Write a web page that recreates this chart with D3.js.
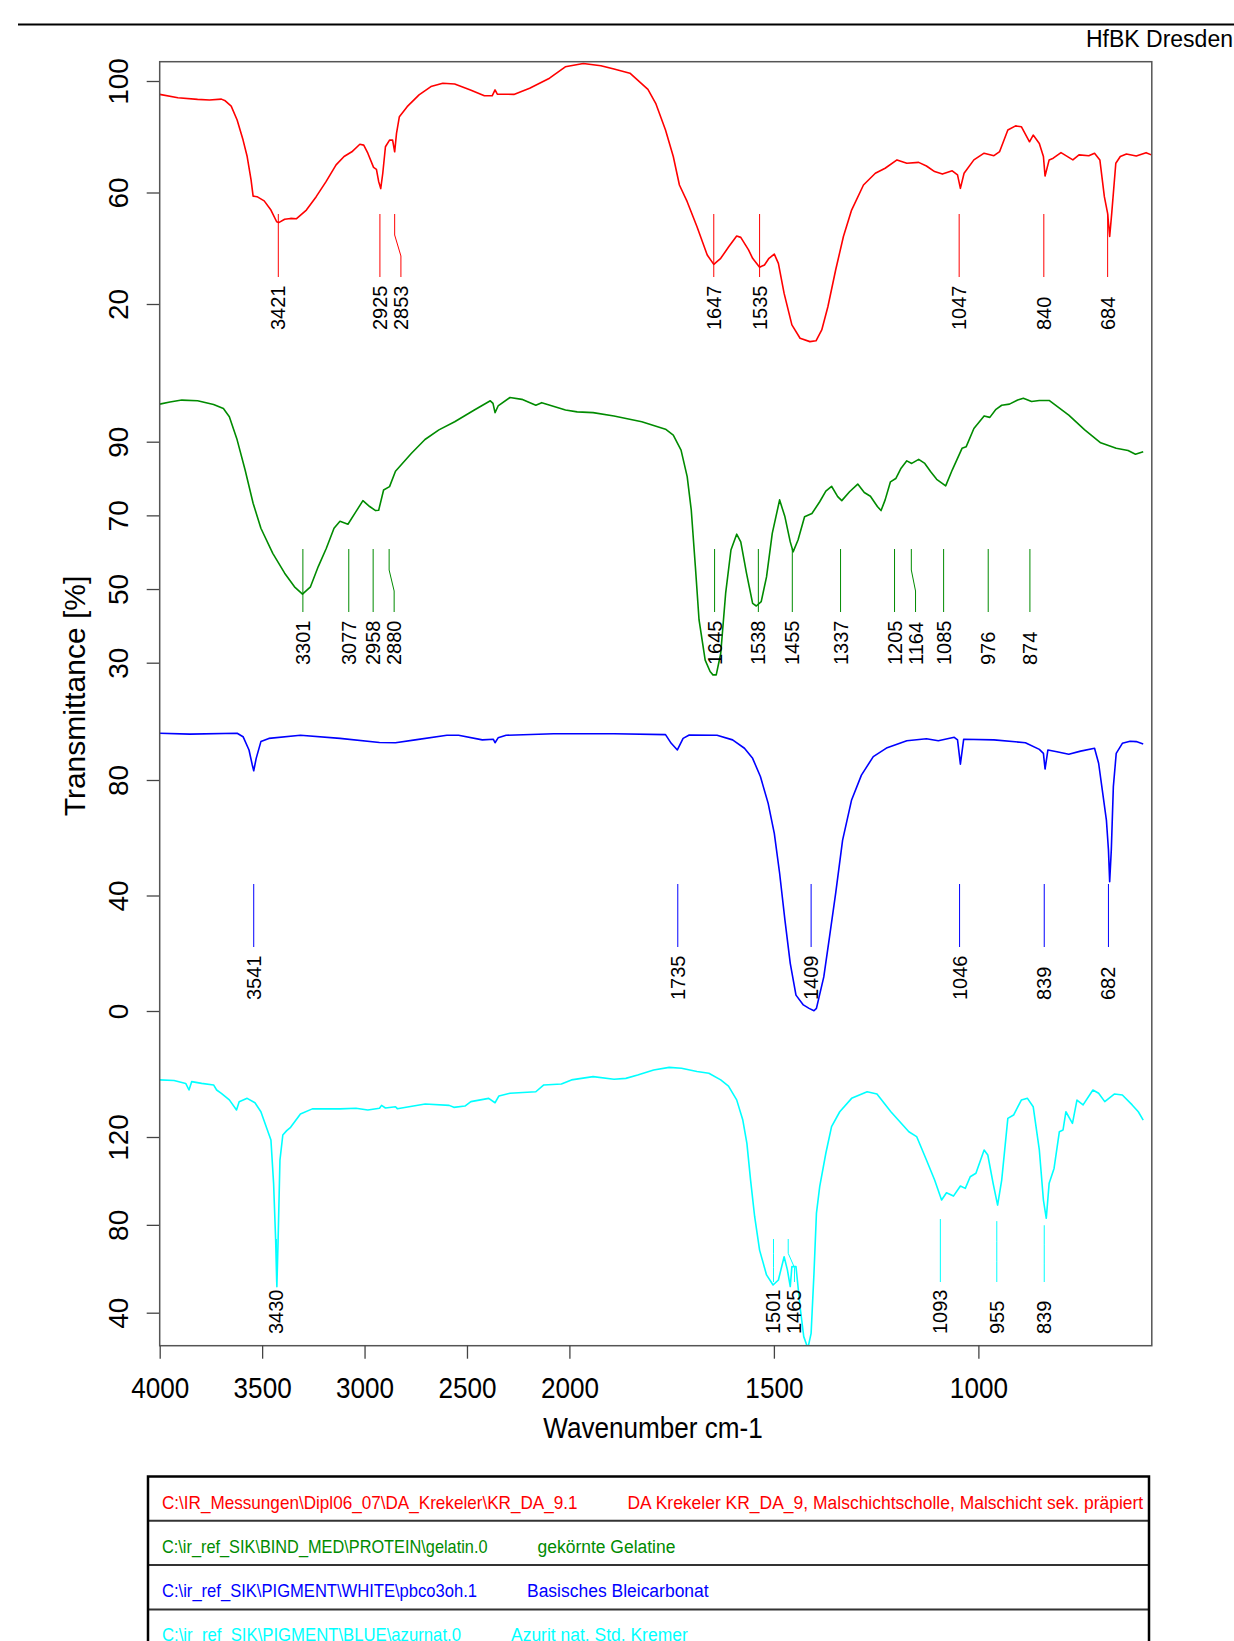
<!DOCTYPE html>
<html>
<head>
<meta charset="utf-8">
<script src="https://cdn.jsdelivr.net/npm/d3@7"></script>
<style>
body { margin: 0; background: #fff; }
text { font-family: "Liberation Sans", Arial, Helvetica, sans-serif; }
</style>
</head>
<body>
<div id="chart"></div>
<script>
// ---- data: [wavenumber, transmittance] ----
var redSpectrum = [[4000,95.2],[3911,94.0],[3815,93.4],[3757,93.2],[3699,93.5],[3680,92.9],[3651,91.0],[3622,86.0],[3593,78.8],[3573,72.9],[3554,64.5],[3544,58.7],[3525,58.5],[3490,57.0],[3457,53.7],[3429,49.5],[3419,49.2],[3390,50.4],[3361,50.7],[3332,50.6],[3284,53.7],[3236,58.5],[3188,63.9],[3139,69.9],[3100,72.9],[3062,74.6],[3023,77.3],[3004,77.0],[2984,74.1],[2956,69.0],[2942,68.3],[2931,63.9],[2921,61.4],[2911,66.9],[2898,76.4],[2878,78.8],[2863,78.8],[2853,74.6],[2844,81.2],[2830,87.2],[2792,90.8],[2734,95.0],[2676,98.0],[2618,99.2],[2560,98.9],[2483,96.8],[2415,94.7],[2377,94.7],[2363,96.8],[2352,95.3],[2271,95.2],[2194,97.4],[2097,101.0],[2020,105.1],[1966,106.3],[1923,105.5],[1891,104.3],[1852,102.8],[1808,97.0],[1789,92.0],[1765,82.4],[1746,72.9],[1731,62.7],[1712,56.7],[1688,47.7],[1663,37.6],[1647,34.2],[1630,36.4],[1610,40.6],[1591,44.4],[1581,43.9],[1562,39.4],[1552,36.4],[1535,33.2],[1523,34.0],[1512,36.4],[1499,37.9],[1489,34.6],[1475,23.8],[1456,12.5],[1436,7.7],[1412,6.5],[1397,6.8],[1383,10.7],[1368,19.0],[1349,32.2],[1330,44.2],[1310,53.7],[1281,62.7],[1252,66.9],[1228,68.7],[1199,71.7],[1175,70.5],[1146,70.8],[1127,69.5],[1107,67.5],[1088,66.6],[1064,67.8],[1051,66.3],[1044,61.5],[1035,66.9],[1011,71.7],[986,74.1],[962,73.2],[948,74.7],[928,82.4],[909,83.9],[895,83.6],[875,78.2],[866,80.6],[851,77.6],[841,72.9],[837,65.9],[827,71.7],[817,72.3],[798,74.3],[769,71.7],[754,73.5],[730,73.2],[716,74.1],[703,71.7],[692,58.5],[684,52.5],[679,44.2],[674,52.5],[664,70.5],[653,72.9],[638,73.8],[614,73.1],[590,74.3],[577,73.5]];

var greenSpectrum = [[4000,100.2],[3950,100.8],[3892,101.3],[3815,101.1],[3737,100.1],[3689,99.0],[3660,96.8],[3622,90.5],[3583,82.3],[3544,73.3],[3506,66.5],[3448,59.7],[3390,54.3],[3342,50.6],[3303,48.6],[3264,50.6],[3226,56.1],[3187,61.0],[3149,66.5],[3120,68.4],[3081,67.6],[3042,71.0],[3008,74.0],[2975,72.4],[2946,71.3],[2931,71.4],[2907,76.9],[2878,77.8],[2849,82.0],[2772,86.8],[2705,90.6],[2637,93.2],[2560,95.4],[2464,98.6],[2386,101.1],[2373,100.4],[2363,97.9],[2348,99.7],[2290,102.0],[2232,101.5],[2164,99.9],[2135,100.6],[2019,98.6],[1981,98.1],[1942,97.9],[1891,97.0],[1823,95.4],[1765,93.4],[1746,91.8],[1727,87.7],[1712,80.5],[1702,71.4],[1692,56.1],[1683,41.6],[1668,30.7],[1656,27.6],[1649,26.7],[1641,26.7],[1630,32.5],[1618,48.8],[1605,60.6],[1591,64.9],[1581,62.8],[1567,54.3],[1552,46.1],[1543,45.4],[1531,46.6],[1518,53.3],[1504,65.1],[1486,74.2],[1473,69.6],[1460,62.8],[1453,60.1],[1441,63.3],[1425,69.6],[1407,70.5],[1388,73.7],[1373,76.6],[1359,77.9],[1344,75.1],[1334,74.0],[1315,76.4],[1295,78.5],[1279,76.2],[1264,75.2],[1247,72.4],[1238,71.3],[1228,74.2],[1215,79.1],[1202,80.0],[1189,82.8],[1175,84.8],[1163,84.1],[1146,85.2],[1131,84.1],[1117,81.9],[1102,79.8],[1080,78.0],[1064,82.3],[1040,88.2],[1030,88.6],[1011,93.6],[986,97.0],[972,96.6],[957,98.8],[943,99.9],[924,100.2],[904,101.3],[890,101.8],[870,100.9],[851,101.2],[827,101.2],[779,97.2],[740,93.2],[701,89.7],[663,88.2],[634,87.6],[616,86.6],[597,87.3]];

var blueSpectrum = [[4000,96.2],[3853,95.9],[3622,96.2],[3593,95.0],[3564,90.4],[3548,85.2],[3541,83.2],[3529,87.5],[3506,93.3],[3467,94.4],[3313,95.5],[3120,94.4],[2927,93.0],[2849,92.9],[2753,93.9],[2598,95.5],[2541,95.5],[2425,93.9],[2371,94.1],[2363,92.9],[2348,94.6],[2309,95.5],[2077,96.0],[1891,96.0],[1765,95.7],[1751,92.7],[1736,90.4],[1722,94.4],[1707,95.6],[1639,95.5],[1601,93.9],[1572,91.0],[1552,87.5],[1533,81.2],[1514,71.9],[1499,61.5],[1486,47.7],[1473,31.5],[1460,16.5],[1446,5.5],[1428,2.1],[1414,0.9],[1402,0.1],[1396,0.9],[1378,11.8],[1364,25.7],[1349,40.7],[1332,59.2],[1310,73.1],[1286,81.7],[1257,88.1],[1223,91.2],[1175,93.6],[1127,94.3],[1098,93.6],[1059,94.8],[1051,93.9],[1044,85.5],[1036,94.1],[962,93.9],[885,92.9],[851,90.6],[841,89.2],[837,83.8],[830,90.4],[808,89.8],[779,88.9],[750,90.0],[716,91.0],[706,85.8],[697,76.5],[687,66.1],[682,55.8],[679,44.8],[675,55.8],[670,77.7],[663,89.2],[648,92.7],[629,93.4],[614,93.3],[597,92.5]];

var cyanSpectrum = [[4000,146.0],[3930,145.7],[3873,144.4],[3857,141.4],[3844,145.2],[3795,144.4],[3737,143.7],[3722,141.4],[3699,139.9],[3660,136.9],[3625,132.3],[3612,136.1],[3573,137.6],[3535,135.6],[3506,131.5],[3477,123.9],[3457,118.6],[3444,98.9],[3434,73.1],[3428,51.8],[3422,73.1],[3413,109.5],[3399,120.9],[3380,122.9],[3361,124.4],[3313,130.5],[3255,132.8],[3120,132.8],[3042,133.1],[2984,132.3],[2927,133.1],[2917,134.4],[2898,133.2],[2849,133.8],[2840,132.9],[2704,135.0],[2587,134.4],[2564,133.5],[2510,134.1],[2481,136.1],[2394,137.6],[2363,135.6],[2344,138.7],[2290,139.9],[2164,140.6],[2125,143.7],[2039,144.1],[1995,146.0],[1942,147.5],[1891,146.3],[1862,146.7],[1833,148.2],[1794,150.5],[1756,151.7],[1726,151.3],[1688,149.8],[1659,149.0],[1630,146.0],[1611,143.2],[1591,136.9],[1576,127.7],[1566,117.1],[1557,100.4],[1547,83.7],[1535,68.5],[1518,57.2],[1502,52.6],[1489,54.9],[1475,65.5],[1467,59.5],[1460,51.9],[1456,61.0],[1446,61.0],[1436,42.7],[1427,29.1],[1417,23.8],[1409,30.6],[1402,57.9],[1396,85.2],[1388,97.4],[1373,112.6],[1359,124.7],[1339,131.5],[1310,137.6],[1272,140.6],[1248,139.6],[1214,131.5],[1170,122.4],[1151,120.2],[1127,109.5],[1107,100.4],[1090,91.3],[1078,94.6],[1061,93.1],[1044,97.7],[1032,96.6],[1020,101.9],[1006,103.5],[986,114.1],[977,111.8],[964,98.9],[953,89.0],[943,100.4],[928,128.5],[914,130.0],[895,136.8],[880,137.6],[866,133.8],[851,114.1],[841,91.3],[834,83.0],[827,98.9],[815,105.7],[802,122.4],[793,123.2],[786,131.5],[770,126.2],[759,136.8],[744,134.6],[720,141.4],[706,139.9],[691,136.1],[667,139.6],[648,139.1],[624,134.6],[609,131.5],[597,127.7]];

// peak labels
var redPeaks = [3421, 2925, 2853, 1647, 1535, 1047, 840, 684];
var greenPeaks = [3301, 3077, 2958, 2880, 1645, 1538, 1455, 1337, 1205, 1164, 1085, 976, 874];
var bluePeaks = [3541, 1735, 1409, 1046, 839, 682];
var cyanPeaks = [3430, 1501, 1465, 1093, 955, 839];

// axis ticks
var xTicks = [4000, 3500, 3000, 2500, 2000, 1500, 1000];
var redTicks = [100, 60, 20];
var greenTicks = [90, 70, 50, 30];
var blueTicks = [80, 40, 0];
var cyanTicks = [120, 80, 40];

// legend
var legendFiles = ["C:\\IR_Messungen\\Dipl06_07\\DA_Krekeler\\KR_DA_9.1",
                   "C:\\ir_ref_SIK\\BIND_MED\\PROTEIN\\gelatin.0",
                   "C:\\ir_ref_SIK\\PIGMENT\\WHITE\\pbco3oh.1",
                   "C:\\ir_ref_SIK\\PIGMENT\\BLUE\\azurnat.0"];
var legendNames = ["DA Krekeler KR_DA_9, Malschichtscholle, Malschicht sek. präpiert",
                   "gekörnte Gelatine",
                   "Basisches Bleicarbonat",
                   "Azurit nat. Std. Kremer"];
var colors = ["#ff0000", "#008b00", "#0000ff", "#00ffff"];

// ---- layout ----
var W = 1234, H = 1641;
var plot = {left: 159.7, top: 61.7, right: 1151.8, bottom: 1345.7};

var svg = d3.select("#chart").append("svg")
    .attr("width", W).attr("height", H);

// IR convention: scale doubles below 2000 cm-1
var x = d3.scaleLinear()
    .domain([4000, 2000, 576])
    .range([plot.left, 569.4, plot.right]);

var panels = [
    {data: redSpectrum, peaks: redPeaks, ticks: redTicks, color: colors[0],
     dom: [100, 20], rng: [81, 304], lineTop: 214, lineBot: 277, labelBase: 330, follow: false},
    {data: greenSpectrum, peaks: greenPeaks, ticks: greenTicks, color: colors[1],
     dom: [90, 30], rng: [441.7, 662.7], lineTop: 549, lineBot: 612, labelBase: 665, follow: false},
    {data: blueSpectrum, peaks: bluePeaks, ticks: blueTicks, color: colors[2],
     dom: [80, 0], rng: [780, 1011], lineTop: 884, lineBot: 947, labelBase: 1000, follow: false},
    {data: cyanSpectrum, peaks: cyanPeaks, ticks: cyanTicks, color: colors[3],
     dom: [120, 40], rng: [1137, 1312.7], lineTop: 1219, lineBot: 1282, labelBase: 1334, follow: true}
];

// header rule + institute
svg.append("line")
    .attr("x1", 18).attr("x2", W).attr("y1", 24.5).attr("y2", 24.5)
    .attr("stroke", "#000").attr("stroke-width", 2);
svg.append("text")
    .attr("x", 1233).attr("y", 46.5)
    .attr("text-anchor", "end").attr("font-size", 23)
    .text("HfBK Dresden");

svg.append("clipPath").attr("id", "plotclip")
  .append("rect")
    .attr("x", plot.left).attr("y", plot.top)
    .attr("width", plot.right - plot.left).attr("height", plot.bottom - plot.top);

// value of a spectrum at a given wavenumber (linear between read points)
function valueAt(data, wn) {
    for (var i = 1; i < data.length; i++) {
        if (data[i][0] <= wn) {
            var a = data[i - 1], b = data[i];
            var t = (a[0] - wn) / (a[0] - b[0]);
            return a[1] + t * (b[1] - a[1]);
        }
    }
    return data[data.length - 1][1];
}

panels.forEach(function(p) {
    var y = d3.scaleLinear().domain(p.dom).range(p.rng);

    // left axis
    var ax = svg.append("g")
        .attr("transform", "translate(" + plot.left + ",0)")
        .call(d3.axisLeft(y).tickValues(p.ticks).tickSize(13));
    ax.select(".domain").remove();
    ax.selectAll("line").attr("stroke", "#444").attr("stroke-width", 1.3);
    ax.selectAll("text")
        .attr("transform", "rotate(-90)")
        .attr("x", 0).attr("y", -32).attr("dy", 0)
        .attr("text-anchor", "middle")
        .attr("font-size", 28).attr("fill", "#000");

    // spectrum
    var line = d3.line()
        .x(function(d) { return x(d[0]); })
        .y(function(d) { return y(d[1]); });
    svg.append("path")
        .datum(p.data)
        .attr("clip-path", "url(#plotclip)")
        .attr("fill", "none")
        .attr("stroke", p.color)
        .attr("stroke-width", 1.6)
        .attr("stroke-linejoin", "round")
        .attr("d", line);

    // peak markers, labels pushed apart when too close
    var prev = -1e9;
    var marks = p.peaks.map(function(wn) {
        var px = x(wn);
        var lx = Math.max(px, prev + 21);
        prev = lx;
        var top = p.lineTop;
        if (p.follow) {
            top = Math.min(Math.max(p.lineTop, y(valueAt(p.data, wn)) + 20), p.lineBot - 43);
        }
        return {wn: wn, px: px, lx: lx, top: top};
    });

    svg.append("g").selectAll("path")
        .data(marks)
        .enter().append("path")
        .attr("fill", "none")
        .attr("stroke", p.color)
        .attr("stroke-width", 1)
        .attr("d", function(d) {
            var L = p.lineBot - d.top;
            return "M" + d.px + "," + d.top + "V" + (d.top + L / 3) +
                   "L" + d.lx + "," + (d.top + 2 * L / 3) + "V" + p.lineBot;
        });

    svg.append("g").selectAll("text")
        .data(marks)
        .enter().append("text")
        .attr("transform", function(d) { return "translate(" + d.lx + "," + p.labelBase + ") rotate(-90)"; })
        .attr("dy", "0.35em")
        .attr("font-size", 20)
        .attr("fill", "#000")
        .text(function(d) { return d.wn; });
});

// plot frame
svg.append("rect")
    .attr("x", plot.left).attr("y", plot.top)
    .attr("width", plot.right - plot.left).attr("height", plot.bottom - plot.top)
    .attr("fill", "none").attr("stroke", "#555").attr("stroke-width", 1.5);

// bottom axis
var xa = svg.append("g")
    .attr("transform", "translate(0," + plot.bottom + ")")
    .call(d3.axisBottom(x).tickValues(xTicks).tickSize(13).tickPadding(18).tickFormat(d3.format("d")));
xa.select(".domain").remove();
xa.selectAll("line").attr("stroke", "#444").attr("stroke-width", 1.3);
xa.selectAll("text")
    .attr("font-size", 30).attr("fill", "#000")
    .attr("transform", "scale(0.87,1)");

svg.append("text")
    .attr("transform", "translate(653,1438) scale(0.87,1)")
    .attr("text-anchor", "middle").attr("font-size", 30)
    .text("Wavenumber cm-1");

svg.append("text")
    .attr("transform", "translate(85,696) rotate(-90)")
    .attr("text-anchor", "middle").attr("font-size", 30)
    .text("Transmittance [%]");

// legend table
var leg = {left: 148, right: 1149, top: 1476.5, row: 44.3, textX: 162, gap: 50};
var nameX = [627.5, 537.5, 527, 511];   // start of the description column per row
var sx = 0.92;
legendFiles.forEach(function(f, i) {
    var top = leg.top + i * leg.row;
    if (i > 0) {
        svg.append("line")
            .attr("x1", leg.left).attr("x2", leg.right).attr("y1", top).attr("y2", top)
            .attr("stroke", "#333").attr("stroke-width", 2);
    }
    svg.append("text")
        .attr("x", leg.textX).attr("y", top + 32)
        .attr("font-size", 19).attr("fill", colors[i])
        .attr("textLength", nameX[i] - leg.gap - leg.textX)
        .attr("lengthAdjust", "spacingAndGlyphs")
        .text(f);
    svg.append("text")
        .attr("transform", "translate(" + nameX[i] + "," + (top + 32) + ") scale(" + sx + ",1)")
        .attr("font-size", 19).attr("fill", colors[i])
        .text(legendNames[i]);
});
svg.append("rect")
    .attr("x", leg.left).attr("y", leg.top)
    .attr("width", leg.right - leg.left).attr("height", leg.row * 4)
    .attr("fill", "none").attr("stroke", "#000").attr("stroke-width", 2.5);
</script>
</body>
</html>
